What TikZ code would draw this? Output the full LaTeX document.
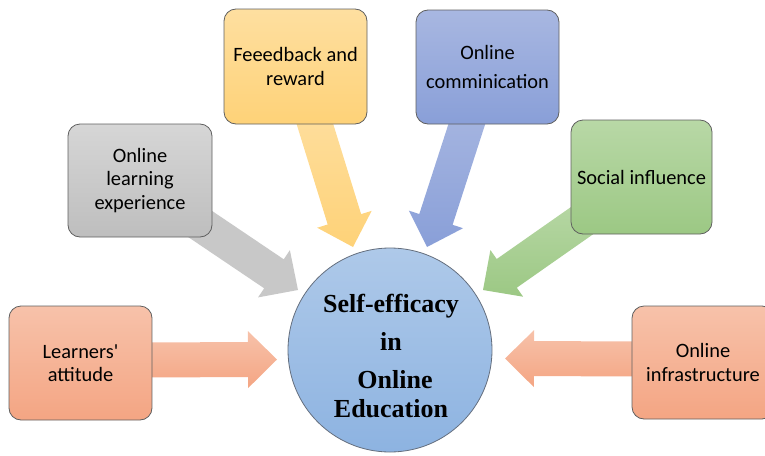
\documentclass[tikz,border=0pt]{standalone}
\usepackage{fontspec}
\newfontfamily\boxfont{Carlito}
\newfontfamily\centfont{Liberation Serif}
\usetikzlibrary{calc}
\definecolor{boxline}{RGB}{95,95,95}
\definecolor{orTop}{RGB}{247,194,170}
\definecolor{orBot}{RGB}{244,165,131}
\definecolor{grTop}{RGB}{214,214,214}
\definecolor{grBot}{RGB}{190,190,190}
\definecolor{grArr}{RGB}{200,200,200}
\definecolor{yeTop}{RGB}{254,223,160}
\definecolor{yeBot}{RGB}{254,210,120}
\definecolor{blTop}{RGB}{168,183,225}
\definecolor{blBot}{RGB}{137,159,216}
\definecolor{gnTop}{RGB}{184,216,166}
\definecolor{gnBot}{RGB}{156,200,132}
\definecolor{ciTop}{RGB}{174,201,233}
\definecolor{ciBot}{RGB}{141,179,225}
\definecolor{ciLine}{RGB}{100,110,125}
\tikzset{
  box/.style={draw=boxline, line width=0.8pt, rounded corners=12pt, align=center,
    font=\boxfont\fontsize{20.4}{23.5}\selectfont, inner sep=2pt},
  orfill/.style={top color=orTop, bottom color=orBot},
  grfill/.style={top color=grTop, bottom color=grBot},
  yefill/.style={top color=yeTop, bottom color=yeBot},
  blfill/.style={top color=blTop, bottom color=blBot},
  gnfill/.style={top color=gnTop, bottom color=gnBot},
  centertext/.style={anchor=base, font=\centfont\bfseries\fontsize{26}{29}\selectfont, inner sep=0pt},
}
\newcommand\blockarr[3]{%
  \coordinate (ba-b) at ($(#2)!29pt!(#1)$);
  \path[#3] ($(#1)!17.5pt!90:(#2)$) -- ($(ba-b)!17.5pt!90:(#2)$) -- ($(ba-b)!28.5pt!90:(#2)$)
    -- (#2) -- ($(ba-b)!28.5pt!-90:(#2)$) -- ($(ba-b)!17.5pt!-90:(#2)$)
    -- ($(#1)!17.5pt!-90:(#2)$) -- cycle;
}
\begin{document}
\begin{tikzpicture}[x=1pt,y=-1pt]
\useasboundingbox (0,0) rectangle (765,455);
\clip (0,0) rectangle (765,455);
% arrow ends
\coordinate (s1) at (120,360);   \coordinate (e1) at (277,359.5);
\coordinate (s2) at (660,359);   \coordinate (e2) at (505,358.5);
\coordinate (s3) at (190.5,217.5); \coordinate (e3) at (298,290);
\coordinate (s4) at (309,105);   \coordinate (e4) at (353,247);
\coordinate (s5) at (473,105);   \coordinate (e5) at (427,247);
\coordinate (s6) at (596.5,210.5); \coordinate (e6) at (483,290);
% arrows
\blockarr{s1}{e1}{orfill}
\blockarr{s2}{e2}{orfill}
\blockarr{s3}{e3}{fill=grArr}
\blockarr{s4}{e4}{yefill}
\blockarr{s5}{e5}{blfill}
\blockarr{s6}{e6}{gnfill}
% boxes
\node[box, orfill, minimum width=143pt, minimum height=114pt] (la) at (80.5,363) {Learners'\\attitude};
\node[box, orfill, minimum width=142pt, minimum height=113pt] (oi) at (703,362.5) {Online\\infrastructure};
\node[box, grfill, minimum width=144pt, minimum height=113pt] (ole) at (140,180.5) {Online\\learning\\experience};
\node[box, yefill, minimum width=143pt, minimum height=115pt] (fr) at (295.5,66.5) {Feeedback and\\reward};
\node[box, blfill, minimum width=143pt, minimum height=114pt] (oc) at (487.5,67) {Online\\[6pt]comminication};
\node[box, gnfill, minimum width=141pt, minimum height=114pt] (si) at (641.5,177) {Social influence};
% centre
\node[circle, draw=ciLine, line width=0.8pt, minimum size=204pt, inner sep=0pt,
      top color=ciTop, bottom color=ciBot] (c) at (390,350) {};
\node[centertext] (t1) at (391,312) {Self-efficacy};
\node[centertext] (t2) at (391,350) {in};
\node[centertext] (t3) at (395,388) {Online};
\node[centertext] (t4) at (391,417) {Education};
\end{tikzpicture}
\end{document}
